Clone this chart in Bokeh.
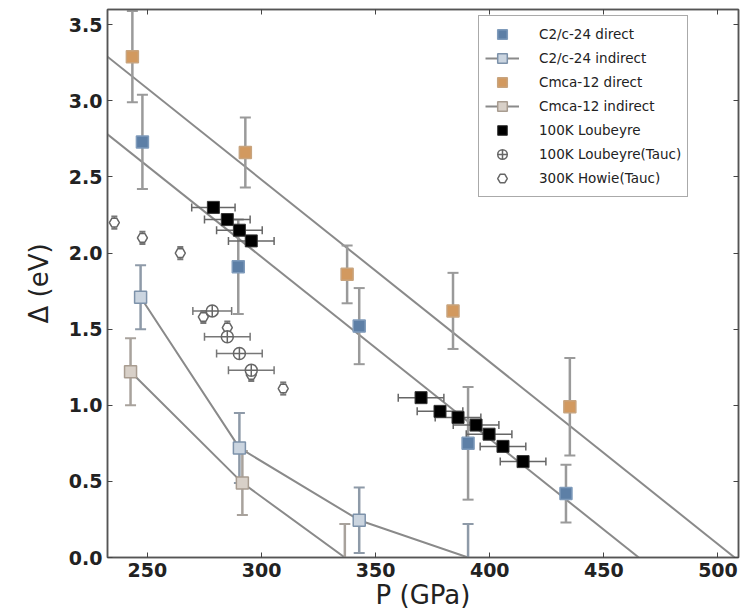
import numpy as np
from bokeh.plotting import figure
from bokeh.models import (Range1d, LinearAxis, SingleIntervalTicker, NumeralTickFormatter,
                          Legend, LegendItem, CustomJSTickFormatter)
from bokeh.embed import file_html
from bokeh.resources import INLINE

# ---------------- data ----------------
c2c_dir_P = [247.8, 289.8, 342.8, 390.5, 433.4]
c2c_dir_gap = [2.73, 1.91, 1.52, 0.75, 0.42]
c2c_dir_err = [0.31, 0.31, 0.25, 0.37, 0.19]

c2c_ind_P = [247.0, 290.3, 342.8, 390.5]
c2c_ind_gap = [1.71, 0.72, 0.245, 0.0]
c2c_ind_err = [0.21, 0.23, 0.215, 0.22]

cmca_dir_P = [243.4, 292.9, 337.5, 383.9, 435.1]
cmca_dir_gap = [3.29, 2.66, 1.86, 1.62, 0.99]
cmca_dir_err = [0.30, 0.23, 0.19, 0.25, 0.32]

cmca_ind_P = [242.6, 291.6, 336.5]
cmca_ind_gap = [1.22, 0.49, 0.0]
cmca_ind_err = [0.22, 0.21, 0.22]

lou_P = [278.9, 285.0, 290.3, 295.5, 369.9, 378.2, 386.1, 394.0, 399.7, 405.8, 414.6]
lou_gap = [2.30, 2.22, 2.15, 2.08, 1.05, 0.96, 0.92, 0.87, 0.81, 0.73, 0.63]
lou_Perr = [9.5, 10, 10, 10, 10, 10, 10, 10, 10, 10, 10]

lou_tauc_P = [278.4, 285.0, 290.3, 295.5]
lou_tauc_gap = [1.62, 1.45, 1.34, 1.23]
lou_tauc_Perr = [8.5, 10, 10, 10]
lou_tauc_err = [0.03, 0.03, 0.03, 0.03]

howie_P = [235.5, 247.8, 264.4, 274.5, 285.0, 295.5, 309.5]
howie_gap = [2.20, 2.10, 2.00, 1.58, 1.51, 1.20, 1.11]
howie_err = [0.04, 0.04, 0.04, 0.04, 0.04, 0.04, 0.04]

fit_cmca_P = [232.5, 507.3]
fit_cmca_gap = [3.29, 0.0]
fit_c2c_P = [232.5, 465.3]
fit_c2c_gap = [2.78, 0.0]

x_ticks_interval = 50
y_ticks_interval = 0.5

# ---------------- figure ----------------
p = figure(width=743, height=613, output_backend="svg", toolbar_location=None,
           x_range=Range1d(232.5, 509), y_range=Range1d(0, 3.6))
p.min_border_left = 107
p.min_border_right = 5
p.min_border_top = 9
p.min_border_bottom = 56
p.background_fill_color = "white"
p.border_fill_color = "white"
p.grid.visible = False
p.outline_line_color = "#555555"
p.outline_line_width = 1.5

FONT = "DejaVu Sans"
for ax in (p.xaxis[0], p.yaxis[0]):
    ax.major_tick_in = 5
    ax.major_tick_out = 0
    ax.minor_tick_in = 0
    ax.minor_tick_out = 0
    ax.axis_line_color = "#555555"
    ax.axis_line_width = 1.5
    ax.major_tick_line_color = "#444444"
    ax.major_label_text_font = FONT
    ax.major_label_text_font_style = "bold"
    ax.major_label_text_font_size = "19px"
    ax.major_label_text_color = "#222222"
    ax.axis_label_text_font = FONT
    ax.axis_label_text_font_style = "normal"
    ax.axis_label_text_font_size = "26px"
    ax.axis_label_text_color = "#222222"

p.xaxis[0].ticker = SingleIntervalTicker(interval=x_ticks_interval)
p.yaxis[0].ticker = SingleIntervalTicker(interval=y_ticks_interval)
p.yaxis[0].formatter = NumeralTickFormatter(format="0.0")
p.xaxis[0].axis_label = "P (GPa)"
p.yaxis[0].axis_label = "Δ (eV)"
p.xaxis[0].major_label_standoff = 5
p.xaxis[0].axis_label_standoff = 0
p.yaxis[0].major_label_standoff = 5
p.yaxis[0].axis_label_standoff = 12

blank = CustomJSTickFormatter(code="return ''")
for side, interval in (("right", y_ticks_interval), ("above", x_ticks_interval)):
    ax = LinearAxis(ticker=SingleIntervalTicker(interval=interval), formatter=blank,
                    major_tick_in=5, major_tick_out=0, minor_tick_in=0, minor_tick_out=0,
                    axis_line_color="#555555", axis_line_width=1.5,
                    major_tick_line_color="#444444", major_label_standoff=0,
                    major_label_text_font_size="1px")
    p.add_layout(ax, side)

# ---------------- fit lines ----------------
LINE_C = "#8a8a8a"
p.line(fit_cmca_P, fit_cmca_gap, line_color=LINE_C, line_width=2)
p.line(fit_c2c_P, fit_c2c_gap, line_color=LINE_C, line_width=2)

ERR_C = "#9a9a9a"


def vbars(P, y, e, color=ERR_C, cap=11, width=2.5):
    P = np.asarray(P, float); y = np.asarray(y, float); e = np.asarray(e, float)
    p.segment(P, y - e, P, y + e, line_color=color, line_width=width)
    p.scatter(np.concatenate([P, P]), np.concatenate([y - e, y + e]), marker="dash",
              size=cap, line_color=color, line_width=2)


def hbars(P, y, e, color="#666666", cap=8, width=1.5):
    P = np.asarray(P, float); y = np.asarray(y, float); e = np.asarray(e, float)
    p.segment(P - e, y, P + e, y, line_color=color, line_width=width)
    p.scatter(np.concatenate([P - e, P + e]), np.concatenate([y, y]), marker="dash",
              angle=np.pi / 2, size=cap, line_color=color, line_width=1.5)


def above_zero(P, y):
    P = np.asarray(P, float); y = np.asarray(y, float)
    m = y > 0
    return P[m], y[m]


# indirect lines
r_c2c_ind_line = p.line(c2c_ind_P, c2c_ind_gap, line_color=LINE_C, line_width=2)
r_cmca_ind_line = p.line(cmca_ind_P, cmca_ind_gap, line_color=LINE_C, line_width=2)

# error bars
vbars(cmca_ind_P, cmca_ind_gap, cmca_ind_err, color="#a8a29c")
vbars(c2c_ind_P, c2c_ind_gap, c2c_ind_err, color="#8e9aa8")
vbars(c2c_dir_P, c2c_dir_gap, c2c_dir_err)
vbars(cmca_dir_P, cmca_dir_gap, cmca_dir_err)
vbars(howie_P, howie_gap, howie_err, color="#777777", cap=6, width=1.2)
vbars(lou_tauc_P, lou_tauc_gap, lou_tauc_err, color="#777777", cap=6, width=1.2)
hbars(lou_tauc_P, lou_tauc_gap, lou_tauc_Perr, color="#777777")
hbars(lou_P, lou_gap, lou_Perr, color="#666666")

# markers
cx, cy = above_zero(cmca_ind_P, cmca_ind_gap)
r_cmca_ind = p.scatter(cx, cy, marker="square", size=12,
                       fill_color="#d8d0c8", line_color="#a89c90", line_width=1.5)
cx, cy = above_zero(c2c_ind_P, c2c_ind_gap)
r_c2c_ind = p.scatter(cx, cy, marker="square", size=12,
                      fill_color="#cbd5e0", line_color="#7d92aa", line_width=1.5)
r_c2c_dir = p.scatter(c2c_dir_P, c2c_dir_gap, marker="square", size=12,
                      fill_color="#5d7fa6", line_color="#7f9bbb", line_width=1.5)
r_cmca_dir = p.scatter(cmca_dir_P, cmca_dir_gap, marker="square", size=12,
                       fill_color="#d2995f", line_color="#c8a47e", line_width=1.5)
r_howie = p.scatter(howie_P, howie_gap, marker="hex", size=10,
                    fill_color="white", line_color="#666666", line_width=1.5)
r_tauc = p.scatter(lou_tauc_P, lou_tauc_gap, marker="circle_cross", size=12,
                   fill_color="white", line_color="#666666", line_width=1.5)
r_lou = p.scatter(lou_P, lou_gap, marker="square", size=12,
                  fill_color="black", line_color="#333333", line_width=1)

legend = Legend(items=[
    LegendItem(label="C2/c-24 direct", renderers=[r_c2c_dir]),
    LegendItem(label="C2/c-24 indirect", renderers=[r_c2c_ind_line, r_c2c_ind]),
    LegendItem(label="Cmca-12 direct", renderers=[r_cmca_dir]),
    LegendItem(label="Cmca-12 indirect", renderers=[r_cmca_ind_line, r_cmca_ind]),
    LegendItem(label="100K Loubeyre", renderers=[r_lou]),
    LegendItem(label="100K Loubeyre(Tauc)", renderers=[r_tauc]),
    LegendItem(label="300K Howie(Tauc)", renderers=[r_howie]),
], location=(371, 360))
legend.label_text_font = FONT
legend.label_text_font_size = "13.5px"
legend.label_text_color = "#222222"
legend.label_height = 24
legend.glyph_height = 24
legend.glyph_width = 34
legend.label_standoff = 20
legend.spacing = 0
legend.padding = 6
legend.margin = 0
legend.border_line_color = "#555555"
legend.border_line_width = 1.2
legend.background_fill_color = "white"
legend.background_fill_alpha = 1.0
p.add_layout(legend, "center")

open("out.html", "w").write(file_html(p, INLINE))
